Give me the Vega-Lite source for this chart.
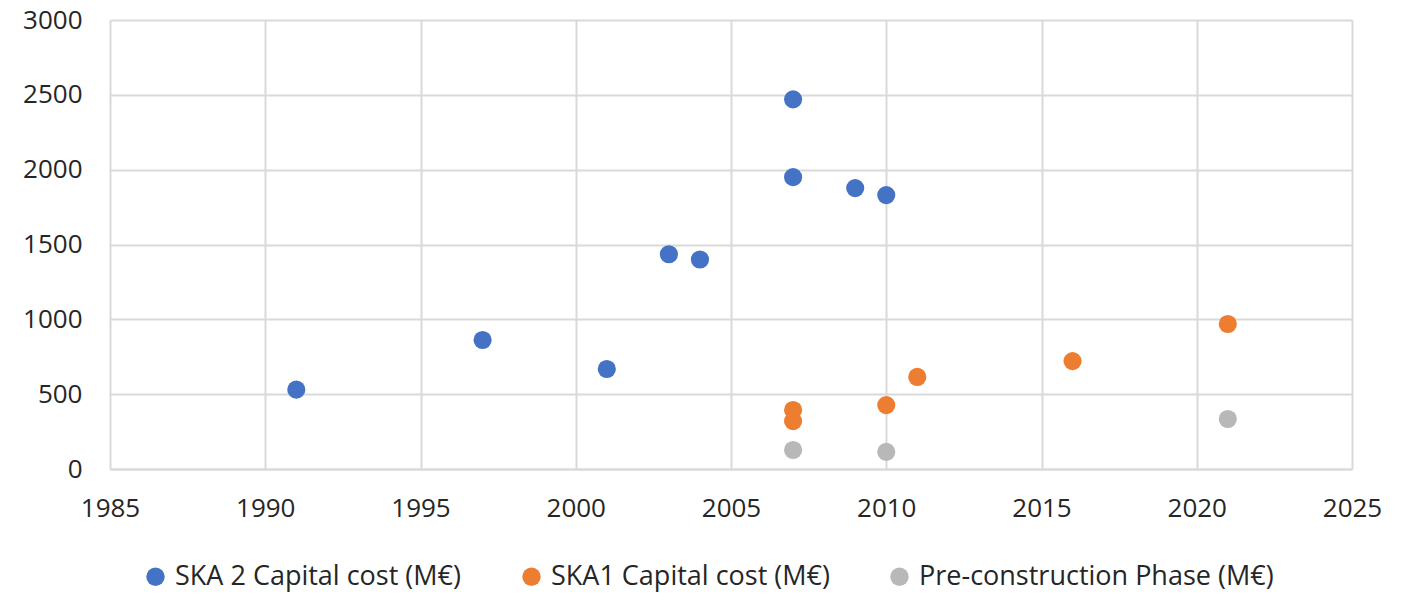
{
  "$schema": "https://vega.github.io/schema/vega-lite/v6.json",
  "width": 1242,
  "height": 449,
  "autosize": "none",
  "padding": {"left": 110, "top": 20, "right": 60, "bottom": 124},
  "background": "white",
  "config": {
    "view": {"stroke": null},
    "font": "Open Sans"
  },
  "data": {
    "values": [
      {"year": 1991, "cost": 530, "series": "SKA 2 Capital cost (M€)"},
      {"year": 1997, "cost": 862, "series": "SKA 2 Capital cost (M€)"},
      {"year": 2001, "cost": 668, "series": "SKA 2 Capital cost (M€)"},
      {"year": 2003, "cost": 1435, "series": "SKA 2 Capital cost (M€)"},
      {"year": 2004, "cost": 1400, "series": "SKA 2 Capital cost (M€)"},
      {"year": 2007, "cost": 2470, "series": "SKA 2 Capital cost (M€)"},
      {"year": 2007, "cost": 1950, "series": "SKA 2 Capital cost (M€)"},
      {"year": 2009, "cost": 1877, "series": "SKA 2 Capital cost (M€)"},
      {"year": 2010, "cost": 1830, "series": "SKA 2 Capital cost (M€)"},
      {"year": 2007, "cost": 394, "series": "SKA1 Capital cost (M€)"},
      {"year": 2007, "cost": 320, "series": "SKA1 Capital cost (M€)"},
      {"year": 2010, "cost": 427, "series": "SKA1 Capital cost (M€)"},
      {"year": 2011, "cost": 615, "series": "SKA1 Capital cost (M€)"},
      {"year": 2016, "cost": 721, "series": "SKA1 Capital cost (M€)"},
      {"year": 2021, "cost": 969, "series": "SKA1 Capital cost (M€)"},
      {"year": 2007, "cost": 127, "series": "Pre-construction Phase (M€)"},
      {"year": 2010, "cost": 114, "series": "Pre-construction Phase (M€)"},
      {"year": 2021, "cost": 334, "series": "Pre-construction Phase (M€)"}
    ]
  },
  "mark": {"type": "circle", "size": 330, "opacity": 1},
  "encoding": {
    "x": {
      "field": "year",
      "type": "quantitative",
      "scale": {"domain": [1985, 2025], "nice": false, "zero": false},
      "axis": {
        "title": null,
        "values": [1985, 1990, 1995, 2000, 2005, 2010, 2015, 2020, 2025],
        "format": "d",
        "ticks": false,
        "domain": true,
        "domainColor": "#d9d9d9",
        "domainWidth": 2,
        "gridColor": "#d9d9d9",
        "gridWidth": 2,
        "labelFontSize": 26,
        "labelColor": "#262626",
        "labelPadding": 26,
        "labelFlush": false
      }
    },
    "y": {
      "field": "cost",
      "type": "quantitative",
      "scale": {"domain": [0, 3000], "nice": false},
      "axis": {
        "title": null,
        "values": [0, 500, 1000, 1500, 2000, 2500, 3000],
        "format": "d",
        "ticks": false,
        "domain": false,
        "gridColor": "#d9d9d9",
        "gridWidth": 2,
        "labelFontSize": 26,
        "labelColor": "#262626",
        "labelPadding": 28
      }
    },
    "color": {
      "field": "series",
      "type": "nominal",
      "sort": ["SKA 2 Capital cost (M€)", "SKA1 Capital cost (M€)", "Pre-construction Phase (M€)"],
      "scale": {
        "domain": ["SKA 2 Capital cost (M€)", "SKA1 Capital cost (M€)", "Pre-construction Phase (M€)"],
        "range": ["#4472C4", "#ED7D31", "#B8B8B8"]
      },
      "legend": {
        "title": null,
        "orient": "none",
        "direction": "horizontal",
        "legendX": 32,
        "legendY": 543,
        "symbolType": "circle",
        "symbolSize": 340,
        "symbolOpacity": 1,
        "labelFontSize": 27,
        "labelColor": "#262626",
        "labelOffset": 6,
        "columnPadding": 56,
        "labelLimit": 500
      }
    }
  }
}
